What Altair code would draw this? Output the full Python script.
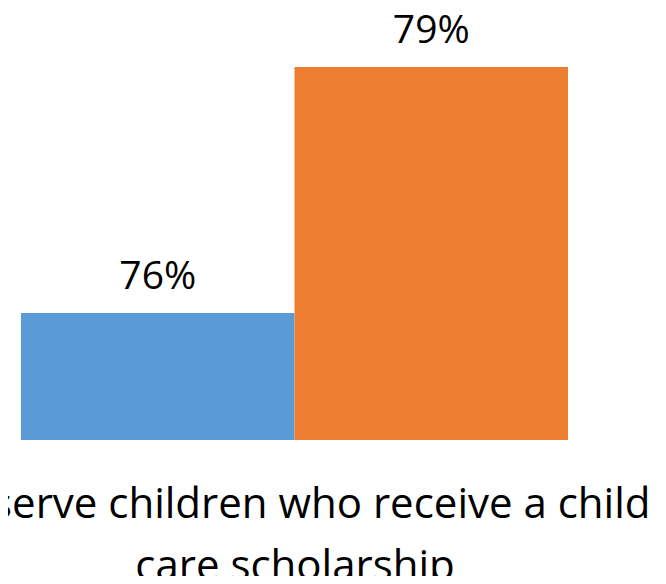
import altair as alt
import pandas as pd

series = ["A", "B"]
values = [76, 79]
labels = ["76%", "79%"]
colors = ["#5B9BD5", "#ED7D31"]
title_line1 = "serve children who receive a child"
title_line2 = "care scholarship"

df = pd.DataFrame({"series": series, "value": values, "label": labels})

common = dict(labels=False, ticks=False, domain=False, orient="bottom",
              titleFontSize=42, titleFont="Open Sans", titleFontWeight="normal",
              titleColor="#000000")
xscale = alt.Scale(paddingInner=0, paddingOuter=0)
y = alt.Y("value:Q", scale=alt.Scale(domain=[74.45, 79], zero=False, nice=False), axis=None)

bars = alt.Chart(df).mark_bar(clip=True).encode(
    x=alt.X("series:N", scale=xscale,
            axis=alt.Axis(title=title_line1, titlePadding=44, titleAlign="right",
                          titleX=629, **common)),
    y=y,
    color=alt.Color("series:N", scale=alt.Scale(domain=series, range=colors), legend=None),
)
text = alt.Chart(df).mark_text(baseline="alphabetic", dy=-24, fontSize=39, font="Open Sans",
                               color="#000000").encode(
    x=alt.X("series:N", scale=xscale,
            axis=alt.Axis(title=title_line2, titlePadding=106, **common)),
    y=y, text="label:N")

chart = alt.layer(bars, text).resolve_axis(x="independent").properties(
    width=547, height=373,
    autosize=alt.AutoSizeParams(type="none"),
    padding={"left": 13, "top": 59, "right": 90, "bottom": 136},
).configure_view(stroke=None)

chart.save("out.html", embed_options={"renderer": "svg", "actions": False})
